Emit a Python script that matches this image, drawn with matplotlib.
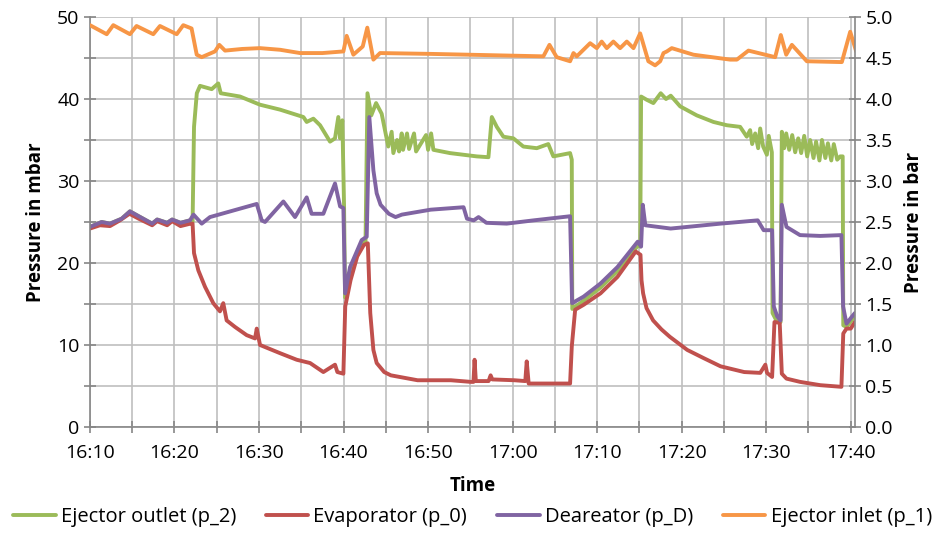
import numpy as np
import matplotlib.pyplot as plt

plt.rcParams['font.family'] = ['Open Sans', 'DejaVu Sans']

# time axis: minutes after 16:00
time_labels = ["16:10", "16:20", "16:30", "16:40", "16:50",
               "17:00", "17:10", "17:20", "17:30", "17:40"]

# Ejector inlet (p_1), bar
t_p1 = [10.0, 11.98, 12.76, 14.73, 15.51, 17.49, 18.28, 20.26, 21.04, 22.02,
        22.63, 23.22, 24.79, 25.30, 25.98, 28.0, 30.12, 32.5, 34.85, 37.5,
        39.98, 40.37, 41.16, 42.27, 42.81, 43.53, 44.32, 50.24, 63.64, 64.36,
        65.22, 66.80, 67.20, 67.59, 69.17, 69.96, 70.54, 71.14, 71.92, 72.72,
        73.51, 74.30, 75.09, 76.06, 76.86, 77.46, 77.85, 78.25, 78.83, 81.39,
        85.74, 86.53, 87.90, 91.06, 91.73, 92.37, 93.04, 94.81, 98.95, 99.94,
        100.65]
p1 = [4.90, 4.79, 4.90, 4.79, 4.89, 4.79, 4.89, 4.79, 4.90, 4.86,
      4.54, 4.51, 4.58, 4.66, 4.59, 4.61, 4.62, 4.60, 4.56, 4.56,
      4.58, 4.77, 4.54, 4.64, 4.87, 4.48, 4.56, 4.55, 4.52, 4.66,
      4.51, 4.46, 4.56, 4.52, 4.68, 4.62, 4.70, 4.62, 4.70, 4.62,
      4.70, 4.62, 4.80, 4.46, 4.41, 4.46, 4.56, 4.58, 4.62, 4.54,
      4.48, 4.48, 4.59, 4.51, 4.78, 4.54, 4.66, 4.46, 4.45, 4.82,
      4.58]

# Deareator (p_D), mbar
t_pd = [10.0, 11.38, 12.37, 13.75, 14.73, 15.77, 17.36, 17.95, 19.13, 19.72,
        20.71, 21.83, 22.25, 23.22, 24.20, 29.73, 30.32, 30.71, 32.88, 34.26,
        35.64, 36.22, 37.61, 38.99, 39.59, 39.98, 40.18, 40.77, 42.15, 42.74,
        43.05, 43.53, 43.92, 44.38, 45.36, 46.15, 46.90, 50.30, 54.20, 54.60,
        55.40, 55.97, 56.90, 59.30, 62.50, 66.80, 67.04, 68.40, 70.40, 72.40,
        74.80, 75.20, 75.40, 75.70, 78.70, 84.60, 89.00, 89.70, 90.70, 90.90,
        91.30, 91.70, 91.85, 92.40, 94.00, 96.40, 98.90, 99.10, 99.50, 100.10,
        100.50]
pd_ = [24.4, 25.0, 24.8, 25.4, 26.3, 25.7, 24.8, 25.3, 24.9, 25.3,
       24.9, 25.2, 25.9, 24.8, 25.6, 27.2, 25.2, 25.0, 27.5, 25.6,
       28.0, 26.0, 26.0, 29.7, 26.9, 26.7, 16.3, 19.5, 22.8, 23.2,
       37.8, 31.3, 28.5, 27.1, 26.0, 25.6, 25.9, 26.5, 26.8, 25.4,
       25.2, 25.6, 24.9, 24.8, 25.2, 25.7, 15.1, 15.9, 17.5, 19.5,
       22.6, 22.0, 27.1, 24.6, 24.2, 24.8, 25.2, 24.0, 24.0, 14.7,
       13.5, 13.0, 27.1, 24.4, 23.4, 23.3, 23.4, 14.7, 12.6, 13.4,
       13.9]

# Evaporator (p_0), mbar
t_p0 = [10.0, 11.18, 12.37, 13.55, 14.67, 15.77, 17.36, 17.95, 19.13, 19.72,
        20.71, 21.89, 22.14, 22.31, 22.82, 23.61, 24.59, 25.38, 25.77, 26.17,
        27.16, 28.54, 29.53, 29.73, 30.12, 32.49, 34.46, 36.04, 37.61, 38.99,
        39.27, 39.98, 40.20, 40.83, 41.62, 42.40, 42.87, 43.16, 43.53, 43.92,
        44.81, 45.60, 48.76, 52.70, 55.08, 55.37, 55.50, 55.65, 57.16, 57.40,
        57.60, 60.23, 61.50, 61.67, 61.90, 66.80, 67.00, 67.40, 68.40, 70.40,
        72.40, 74.56, 75.13, 75.25, 75.44, 75.84, 76.62, 77.61, 78.60, 80.66,
        82.60, 84.60, 87.40, 89.30, 89.90, 90.10, 90.70, 90.98, 91.60, 91.85,
        92.40, 94.02, 96.40, 98.90, 99.12, 99.50, 100.00, 100.50]
p0 = [24.2, 24.6, 24.5, 25.2, 26.0, 25.4, 24.6, 25.1, 24.6, 25.1,
      24.5, 24.8, 24.8, 21.2, 19.1, 17.1, 15.1, 14.1, 15.1, 13.0,
      12.2, 11.2, 10.8, 12.0, 10.0, 9.0, 8.2, 7.8, 6.7, 7.6,
      6.7, 6.5, 14.7, 17.9, 20.8, 22.2, 22.4, 13.9, 9.4, 7.8,
      6.7, 6.3, 5.7, 5.7, 5.5, 5.5, 8.2, 5.6, 5.6, 6.3,
      5.8, 5.7, 5.6, 8.0, 5.3, 5.3, 9.8, 14.3, 14.9, 16.3,
      18.3, 21.4, 21.0, 17.9, 16.3, 14.5, 13.0, 11.9, 11.0, 9.4,
      8.4, 7.4, 6.7, 6.6, 7.6, 6.6, 6.1, 12.8, 12.7, 6.5,
      5.9, 5.5, 5.1, 4.9, 11.4, 12.0, 12.0, 12.8]

# Ejector outlet (p_2), mbar
t_p2 = [10.0, 11.38, 12.37, 13.75, 14.73, 15.77, 17.36, 17.95, 19.13, 19.72,
        20.71, 21.83, 22.14, 22.31, 22.64, 23.02, 24.40, 25.18, 25.47, 27.75,
        30.12, 32.49, 35.25, 35.64, 36.43, 37.22, 38.40, 38.99, 39.38, 39.59,
        39.86, 40.06, 40.18, 40.77, 42.15, 42.60, 42.83, 43.28, 43.85, 44.51,
        45.29, 45.69, 45.89, 46.33, 46.57, 46.88, 47.04, 47.51, 47.75, 48.34,
        48.58, 49.76, 50.00, 50.36, 50.63, 52.60, 55.75, 57.14, 57.54, 58.13,
        58.91, 60.09, 61.27, 62.86, 64.22, 64.82, 66.80, 67.00, 67.06, 68.40,
        70.40, 72.40, 74.80, 75.10, 75.20, 75.87, 76.65, 77.52, 78.15, 78.71,
        79.82, 81.79, 83.76, 85.34, 86.92, 87.70, 88.10, 88.34, 88.70, 89.05,
        89.29, 89.64, 90.08, 90.30, 90.67, 90.75, 91.30, 91.70, 91.85, 92.13,
        92.37, 92.72, 93.08, 93.43, 93.79, 94.14, 94.50, 94.85, 95.20, 95.60,
        95.90, 96.30, 96.60, 97.00, 97.30, 97.70, 98.00, 98.40, 98.76, 99.05,
        99.12, 99.50, 100.10, 100.50]
p2 = [24.4, 25.0, 24.8, 25.4, 26.3, 25.7, 24.8, 25.3, 24.9, 25.3,
      24.9, 25.2, 25.0, 36.6, 40.7, 41.6, 41.2, 41.9, 40.7, 40.3,
      39.3, 38.7, 37.8, 37.2, 37.6, 36.8, 34.8, 35.2, 37.8, 35.2,
      37.4, 26.9, 15.8, 19.0, 22.4, 22.6, 40.7, 38.0, 39.5, 38.2,
      34.2, 36.0, 33.4, 35.0, 33.6, 35.8, 33.8, 35.8, 33.9, 35.8,
      33.6, 35.6, 33.8, 35.8, 33.8, 33.4, 33.0, 32.9, 37.8, 36.6,
      35.4, 35.2, 34.2, 34.0, 34.5, 33.0, 33.4, 32.6, 14.4, 15.4,
      17.0, 19.0, 22.1, 22.0, 40.3, 39.9, 39.5, 40.7, 40.0, 40.4,
      39.1, 38.0, 37.2, 36.8, 36.6, 35.4, 36.2, 34.5, 35.8, 34.0,
      36.4, 34.2, 33.2, 35.5, 33.5, 13.9, 12.8, 12.8, 36.0, 34.0,
      35.8, 33.8, 35.6, 33.5, 35.2, 33.4, 35.5, 33.0, 35.0, 32.8,
      34.8, 32.5, 35.0, 32.8, 34.6, 32.5, 34.5, 32.6, 33.0, 33.0,
      12.4, 12.2, 13.0, 13.5]

green = "#9BBB59"
red = "#C0504D"
purple = "#8064A2"
orange = "#F79646"
grid_c = "#BFBFBF"
spine_c = "#868686"

fig = plt.figure(figsize=(9.45, 5.39), dpi=100)
ax = fig.add_axes([0.0952, 0.2078, 0.8095, 0.7607])
ax2 = ax.twinx()

lw = 2.8
style = dict(lw=lw, solid_joinstyle="round", solid_capstyle="round")
l1, = ax.plot(t_p2, p2, color=green, label="Ejector outlet (p_2)", **style)
l2, = ax.plot(t_p0, p0, color=red, label="Evaporator (p_0)", **style)
l3, = ax.plot(t_pd, pd_, color=purple, label="Deareator (p_D)", **style)
l4, = ax2.plot(t_p1, p1, color=orange, label="Ejector inlet (p_1)", **style)

ax.set_xlim(10, 100.5)
ax.set_ylim(0, 50)
ax2.set_ylim(0, 5)

# x ticks every 5 minutes, labels every 10
xt = np.arange(10, 101, 5)
ax.set_xticks(xt)
lab_pos = [int(s[:2]) * 60 + int(s[3:]) - 960 for s in time_labels]
ax.set_xticklabels([time_labels[lab_pos.index(v)] if v in lab_pos else "" for v in xt])

yt = np.arange(0, 51, 5)
ax.set_yticks(yt)
ax.set_yticklabels([str(v) if v % 10 == 0 else "" for v in yt])
ax2.set_yticks(np.arange(0, 5.01, 0.5))
ax2.set_yticklabels([f"{v:.1f}" for v in np.arange(0, 5.01, 0.5)])

ax.grid(True, color=grid_c, lw=1.2)
ax.set_axisbelow(True)

for a in (ax, ax2):
    for s in a.spines.values():
        s.set_visible(False)
    a.tick_params(direction="inout", length=8, width=1.2, color=spine_c,
                  labelsize=14, colors="black")
for a, side in ((ax, "left"), (ax, "bottom"), (ax2, "right")):
    a.spines[side].set_visible(True)
    a.spines[side].set_color(spine_c)
    a.spines[side].set_linewidth(1.2)
ax.tick_params(axis="x", pad=8)

ax.set_xlabel("Time", fontsize=13.5, fontweight="bold", labelpad=10)
ax.set_ylabel("Pressure in mbar", fontsize=13.5, fontweight="bold", labelpad=8)
ax2.set_ylabel("Pressure in bar", fontsize=13.5, fontweight="bold", labelpad=8)

fig.legend(handles=[l1, l2, l3, l4], loc="lower center", bbox_to_anchor=(0.5, -0.012),
           ncol=4, frameon=False, fontsize=14.5, handlelength=2.1,
           handletextpad=0.25, columnspacing=1.5)

fig.savefig("out.png", dpi=100)
